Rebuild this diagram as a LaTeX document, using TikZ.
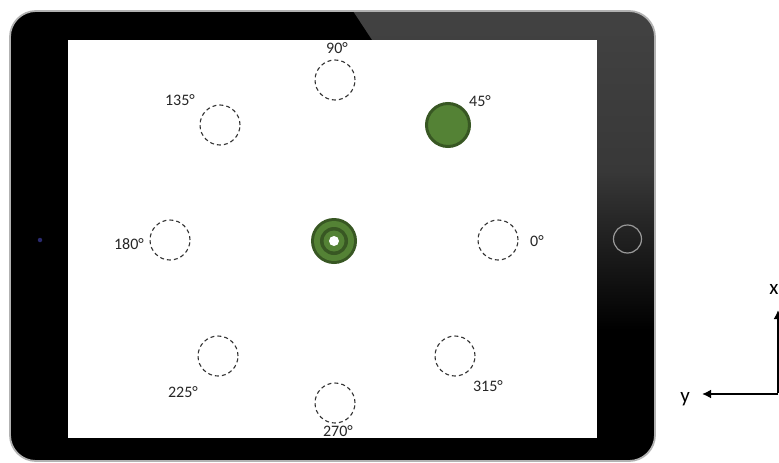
\documentclass[tikz,border=0pt]{standalone}
\usepackage{fontspec}
\setmainfont{Carlito}
\usetikzlibrary{arrows.meta}
\definecolor{gdark}{HTML}{385723}
\definecolor{gmid}{HTML}{548235}
\definecolor{bezelgray}{HTML}{424242}
\definecolor{txt}{HTML}{262626}
\tikzset{
  dashcirc/.style={circle, draw=black!80, dashed, dash pattern=on 4pt off 3pt, line width=1.1pt, minimum size=40pt, inner sep=0pt},
  lbl/.style={font=\fontsize{16}{18}\selectfont, text=txt, inner sep=0pt},
  axlbl/.style={font=\fontsize{21}{23}\selectfont, text=black, inner sep=0pt},
  axarrow/.style={line width=1.8pt, -{Latex[length=9pt,width=9pt]}}
}
\begin{document}
\begin{tikzpicture}[x=1pt,y=-1pt]
\useasboundingbox (0,0) rectangle (779,463);
% tablet body
\fill[black, rounded corners=26pt] (10,11) rectangle (655,461);
\begin{scope}
  \clip[rounded corners=26pt] (10,11) rectangle (655,461);
  \shade[top color=bezelgray, bottom color=black, middle color=bezelgray!85!black, shading angle=0]
    (353,11) -- (655,11) -- (655,330) -- (563,330) -- cycle;
\end{scope}
\draw[gray!60, line width=1.8pt, rounded corners=26pt] (10,11) rectangle (655,461);
% screen
\fill[white] (68,40) rectangle (597,438);
% camera and home button
\node[circle, fill=blue!45!gray!60!black, minimum size=4.5pt, inner sep=0pt] (cam) at (40,240) {};
\node[circle, draw=gray!80, line width=1.2pt, minimum size=28pt, inner sep=0pt] (home) at (627.5,239) {};
% dashed target positions
\node[dashcirc] (c0) at (498,240) {};
\node[dashcirc] (c90) at (335,80) {};
\node[dashcirc] (c135) at (220,125) {};
\node[dashcirc] (c180) at (170,240) {};
\node[dashcirc] (c225) at (218,356) {};
\node[dashcirc] (c270) at (335,403) {};
\node[dashcirc] (c315) at (455,356) {};
% filled 45 deg target
\node[circle, fill=gmid, draw=gdark, line width=3pt, minimum size=43pt, inner sep=0pt] (c45) at (448,125) {};
% centre target
\node[circle, fill=gdark, minimum size=46pt, inner sep=0pt] (ctr) at (334,241) {};
\node[circle, fill=gmid, minimum size=40pt, inner sep=0pt] (ctrb) at (ctr) {};
\node[circle, fill=gdark, minimum size=28pt, inner sep=0pt] (ctrc) at (ctr) {};
\node[circle, fill=gmid, minimum size=21pt, inner sep=0pt] (ctrd) at (ctr) {};
\node[circle, fill=white, minimum size=10pt, inner sep=0pt] (ctre) at (ctr) {};
% labels
\node[lbl] (l90) at (337,48) {90°};
\node[lbl] (l45) at (480,101) {45°};
\node[lbl] (l135) at (180,100) {135°};
\node[lbl] (l180) at (129,244) {180°};
\node[lbl] (l0) at (537,241) {0°};
\node[lbl] (l225) at (183,392) {225°};
\node[lbl] (l315) at (488,386) {315°};
\node[lbl] (l270) at (338,431) {270°};
% axes
\coordinate (o) at (778,394);
\coordinate (yend) at (702,394);
\coordinate (xend) at (778,310);
\node[axlbl] (ylab) at (685,399) {y};
\node[axlbl] (xlab) at (774,289) {x};
\draw[axarrow] (o) -- (yend);
\draw[axarrow] ([yshift=0.9pt]o) -- (xend);
\end{tikzpicture}
\end{document}
